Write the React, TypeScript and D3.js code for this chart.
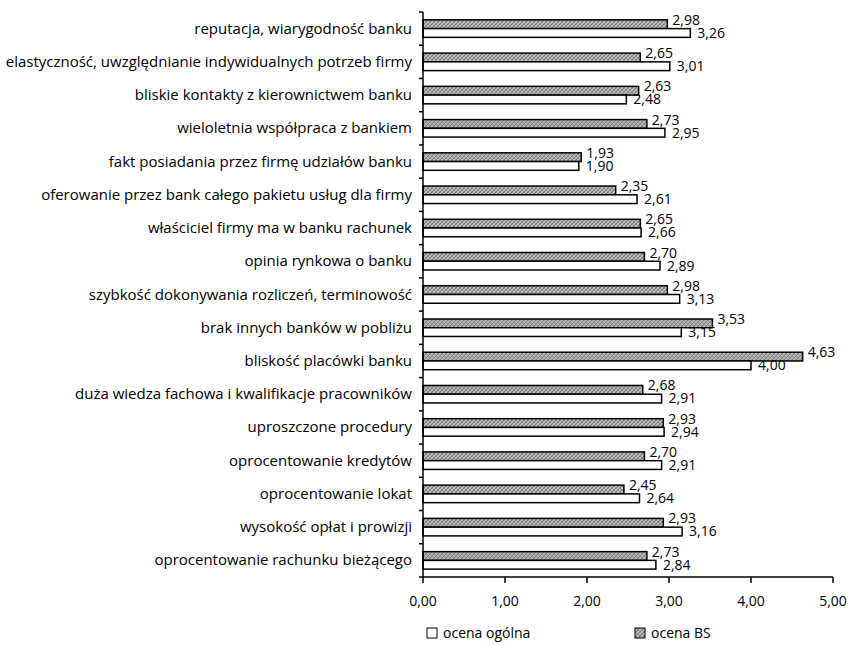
import React, { useRef, useEffect } from "react";
import * as d3 from "d3";

const categories = [
  "reputacja, wiarygodność banku",
  "elastyczność, uwzględnianie indywidualnych potrzeb firmy",
  "bliskie kontakty z kierownictwem banku",
  "wieloletnia współpraca z bankiem",
  "fakt posiadania przez firmę udziałów banku",
  "oferowanie przez bank całego pakietu usług dla firmy",
  "właściciel firmy ma w banku rachunek",
  "opinia rynkowa o banku",
  "szybkość dokonywania rozliczeń, terminowość",
  "brak innych banków w pobliżu",
  "bliskość placówki banku",
  "duża wiedza fachowa i kwalifikacje pracowników",
  "uproszczone procedury",
  "oprocentowanie kredytów",
  "oprocentowanie lokat",
  "wysokość opłat i prowizji",
  "oprocentowanie rachunku bieżącego",
];

const ocenaBS = [2.98, 2.65, 2.63, 2.73, 1.93, 2.35, 2.65, 2.7, 2.98, 3.53, 4.63, 2.68, 2.93, 2.7, 2.45, 2.93, 2.73];
const ocenaOgolna = [3.26, 3.01, 2.48, 2.95, 1.9, 2.61, 2.66, 2.89, 3.13, 3.15, 4.0, 2.91, 2.94, 2.91, 2.64, 3.16, 2.84];

const seriesKeys = ["bs", "og"];
const xTicks = [0, 1, 2, 3, 4, 5];

const W = 849;
const H = 645;
const FONT = "'Open Sans', sans-serif";

const fmt = (v: number) => v.toFixed(2).replace(".", ",");

const Chart: React.FC = () => {
  const ref = useRef<SVGSVGElement | null>(null);

  useEffect(() => {
    const svg = d3.select(ref.current);
    svg.selectAll("*").remove();

    const left = 423;
    const x = d3.scaleLinear().domain([0, 5]).range([left, 833]);
    const y = d3.scaleBand<string>().domain(categories).range([12, 577]).padding(0);
    const y1 = d3
      .scaleBand<string>()
      .domain(seriesKeys)
      .range([0, y.bandwidth()])
      .paddingInner(0)
      .paddingOuter(0.9);

    // mottled hatch for "ocena BS"
    const defs = svg.append("defs");
    const pat = defs
      .append("pattern")
      .attr("id", "hatch")
      .attr("patternUnits", "userSpaceOnUse")
      .attr("width", 4)
      .attr("height", 4);
    pat.append("rect").attr("width", 4).attr("height", 4).attr("fill", "#bdbdbd");
    pat
      .append("path")
      .attr("d", "M0,4 L4,0 M-1,1 L1,-1 M3,5 L5,3")
      .attr("stroke", "#555")
      .attr("stroke-width", 0.7);
    pat
      .append("path")
      .attr("d", "M0,0 L4,4 M-1,3 L1,5 M3,-1 L5,1")
      .attr("stroke", "#7a7a7a")
      .attr("stroke-width", 0.6);

    const g = svg.append("g");

    // bars
    categories.forEach((c, i) => {
      const y0 = y(c) ?? 0;
      const vals = [ocenaBS[i], ocenaOgolna[i]];
      seriesKeys.forEach((k, j) => {
        const by = y0 + (y1(k) ?? 0);
        g.append("rect")
          .attr("x", x(0))
          .attr("y", by)
          .attr("width", x(vals[j]) - x(0))
          .attr("height", y1.bandwidth())
          .attr("fill", k === "bs" ? "url(#hatch)" : "#fff")
          .attr("stroke", "#000")
          .attr("stroke-width", 1.5);
        g.append("text")
          .attr("x", x(vals[j]) + (k === "bs" ? 5 : 7))
          .attr("y", k === "bs" ? by + 5 : by + y1.bandwidth() + 0.5)
          .attr("font-family", FONT)
          .attr("font-size", 14)
          .attr("fill", "#000")
          .text(fmt(vals[j]));
      });
    });

    // category labels
    g.selectAll("text.cat")
      .data(categories)
      .enter()
      .append("text")
      .attr("class", "cat")
      .attr("x", 412)
      .attr("y", (d) => (y(d) ?? 0) + y.bandwidth() / 2 + 5)
      .attr("text-anchor", "end")
      .attr("font-family", FONT)
      .attr("font-size", 15)
      .attr("fill", "#000")
      .text((d) => d);

    // y axis
    const yBounds = d3.range(categories.length + 1).map((i) => 12 + i * y.step());
    g.append("line")
      .attr("x1", left)
      .attr("x2", left)
      .attr("y1", 12)
      .attr("y2", 577)
      .attr("stroke", "#000")
      .attr("stroke-width", 1.5);
    g.selectAll("line.ytick")
      .data(yBounds)
      .enter()
      .append("line")
      .attr("class", "ytick")
      .attr("x1", left - 4)
      .attr("x2", left)
      .attr("y1", (d) => d)
      .attr("y2", (d) => d)
      .attr("stroke", "#000")
      .attr("stroke-width", 1.5);

    // x axis
    g.append("line")
      .attr("x1", left)
      .attr("x2", x(5))
      .attr("y1", 577)
      .attr("y2", 577)
      .attr("stroke", "#000")
      .attr("stroke-width", 1.5);
    xTicks.forEach((t) => {
      g.append("line")
        .attr("x1", x(t))
        .attr("x2", x(t))
        .attr("y1", 577)
        .attr("y2", 583)
        .attr("stroke", "#000")
        .attr("stroke-width", 1.5);
      g.append("text")
        .attr("x", x(t))
        .attr("y", 606)
        .attr("text-anchor", "middle")
        .attr("font-family", FONT)
        .attr("font-size", 14)
        .attr("fill", "#000")
        .text(fmt(t));
    });

    // legend
    const legend = [
      { label: "ocena ogólna", fill: "#fff", x: 427 },
      { label: "ocena BS", fill: "url(#hatch)", x: 635 },
    ];
    legend.forEach((l) => {
      g.append("rect")
        .attr("x", l.x)
        .attr("y", 628)
        .attr("width", 10)
        .attr("height", 10)
        .attr("fill", l.fill)
        .attr("stroke", "#000")
        .attr("stroke-width", 1);
      g.append("text")
        .attr("x", l.x + 16)
        .attr("y", 638)
        .attr("font-family", FONT)
        .attr("font-size", 14)
        .attr("fill", "#000")
        .text(l.label);
    });
  }, []);

  return (
    <svg
      ref={ref}
      width={W}
      height={H}
      style={{ position: "absolute", left: 0, top: 0, background: "#fff" }}
    />
  );
};

export default function App() {
  return <Chart />;
}
